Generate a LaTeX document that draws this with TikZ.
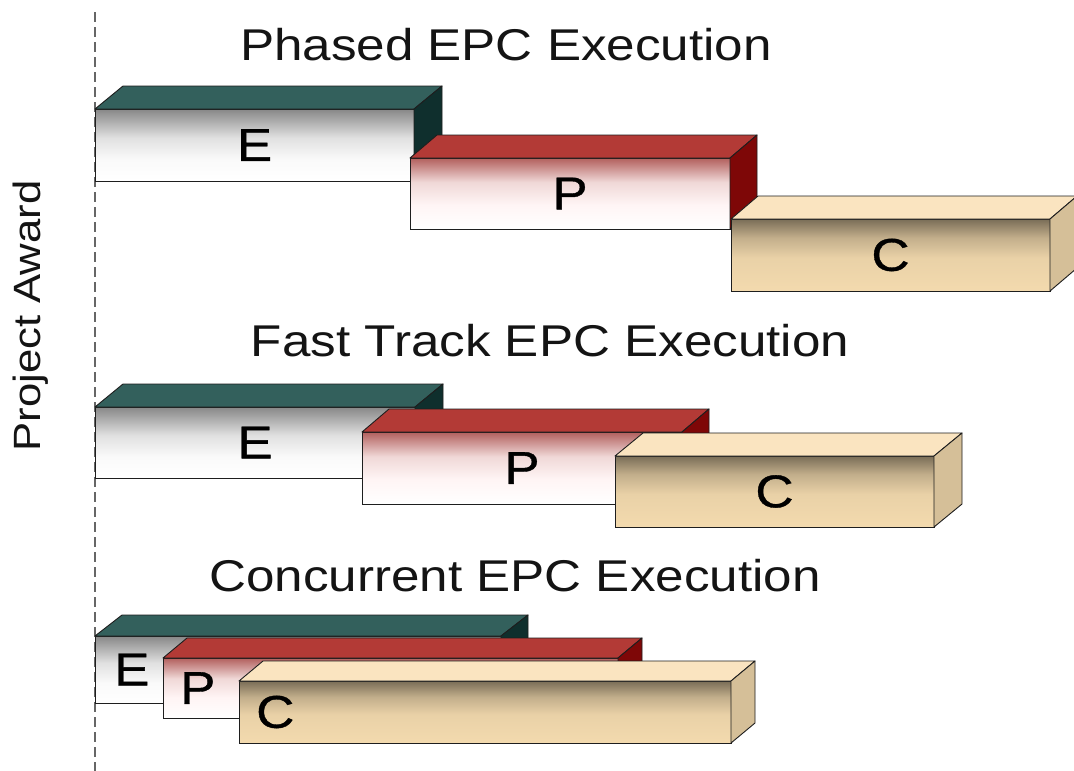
\documentclass[tikz,border=0pt]{standalone}
\usepackage{fontspec}
\newfontfamily\epcfont[FakeStretch=1.15]{Liberation Sans}
\newfontfamily\epcletterfont[FakeStretch=1.15,FakeBold=0.8]{Liberation Sans}
\definecolor{etopc}{HTML}{33605C}
\definecolor{esidec}{HTML}{0F2F2D}
\definecolor{ptopc}{HTML}{B33A36}
\definecolor{psidec}{HTML}{7E0707}
\definecolor{ctopc}{HTML}{FAE4C0}
\definecolor{csidec}{HTML}{D5BF98}
\definecolor{clowc}{HTML}{F3DAAE}
\definecolor{edgec}{HTML}{1E1E1E}
\pgfdeclareverticalshading{eshade}{100bp}{color(0bp)=(white); color(25bp)=(white); color(40bp)=(white!98!black); color(55bp)=(white!88!black); color(75bp)=(white!53!black); color(100bp)=(white!53!black)}
\pgfdeclareverticalshading{pshade}{100bp}{color(0bp)=(white); color(25bp)=(white); color(42bp)=(white!96!red); color(58bp)=(white!80!ptopc); color(75bp)=(white!15!ptopc!80!gray); color(100bp)=(white!15!ptopc!80!gray)}
\pgfdeclareverticalshading{cshade}{100bp}{color(0bp)=(clowc); color(25bp)=(clowc); color(48bp)=(clowc!96!black); color(62bp)=(clowc!80!black); color(75bp)=(clowc!50!black); color(100bp)=(clowc!50!black)}
\tikzset{
  basefront/.style={draw=edgec, line width=0.9pt, inner sep=0pt, outer sep=0pt, font=\epcletterfont\fontsize{46}{50}\selectfont, text=black},
  Efront/.style={basefront, shading=eshade},
  Pfront/.style={basefront, shading=pshade},
  Cfront/.style={basefront, shading=cshade},
  Etop/.style={draw=edgec, line width=0.9pt, line join=round, fill=etopc},
  Eside/.style={draw=edgec, line width=0.9pt, line join=round, fill=esidec},
  Ptop/.style={draw=edgec, line width=0.9pt, line join=round, fill=ptopc},
  Pside/.style={draw=edgec, line width=0.9pt, line join=round, fill=psidec},
  Ctop/.style={draw=edgec, line width=0.9pt, line join=round, fill=ctopc},
  Cside/.style={draw=edgec, line width=0.9pt, line join=round, fill=csidec},
  titletext/.style={font=\epcfont\fontsize{44.5}{50}\selectfont, text=black!92, inner sep=0pt},
  letter/.style={font=\epcletterfont\fontsize{46}{50}\selectfont, text=black, inner sep=0pt},
  awardtext/.style={font=\epcfont\fontsize{38}{44}\selectfont, text=black!92, rotate=90, inner sep=0pt},
  awardline/.style={draw=black!60, line width=1.8pt, dash pattern=on 10pt off 5pt}
}
% name, x, y (top-left of front face), width, height, dx, dy, kind, text
\newcommand\epcbox[9]{%
  \node[#8front, minimum width=#4, minimum height=#5, anchor=north west] (#1) at (#2,#3) {#9};
  \draw[#8top] (#1.north west) -- ++(#6,-#7) -- ([shift={(#6,-#7)}]#1.north east) -- (#1.north east) -- cycle;
  \draw[#8side] (#1.north east) -- ++(#6,-#7) -- ([shift={(#6,-#7)}]#1.south east) -- (#1.south east) -- cycle;
}
\begin{document}
\begin{tikzpicture}[x=1pt,y=-1pt]
\useasboundingbox[fill=white] (0,0) rectangle (1074,771);
% project award line
\coordinate (dtop) at (95,12);
\coordinate (dbot) at (95,771);
\draw[awardline] (dtop) -- (dbot);
\node[awardtext] (award) at (31,316) {Project Award};
% titles
\node[titletext, anchor=base] (t1) at (506,60) {Phased EPC Execution};
\node[titletext, anchor=base] (t2) at (550,356) {Fast Track EPC Execution};
\node[titletext, anchor=base] (t3) at (515,591) {Concurrent EPC Execution};
% phased
\epcbox{pe}{95}{109}{319}{72}{28}{23}{E}{E}
\epcbox{pp}{410}{158}{320}{71}{27}{23}{P}{P}
\epcbox{pc}{731}{219}{319}{72}{27}{23}{C}{C}
% fast track
\epcbox{fe}{95}{407}{320}{71}{28}{23}{E}{E}
\epcbox{fp}{362}{432}{320}{72}{27}{23}{P}{P}
\epcbox{fc}{615}{456}{319}{71}{28}{23}{C}{C}
% concurrent
\epcbox{ce}{95}{636}{406}{67}{27}{21}{E}{}
\node[letter, anchor=west] (cel) at ([xshift=19]ce.west) {E};
\epcbox{cp}{163}{658}{455}{60}{24}{20}{P}{}
\node[letter, anchor=west] (cpl) at ([xshift=17]cp.west) {P};
\epcbox{cc}{239}{681}{492}{62}{24}{20}{C}{}
\node[letter, anchor=west] (ccl) at ([xshift=17]cc.west) {C};
\end{tikzpicture}
\end{document}
